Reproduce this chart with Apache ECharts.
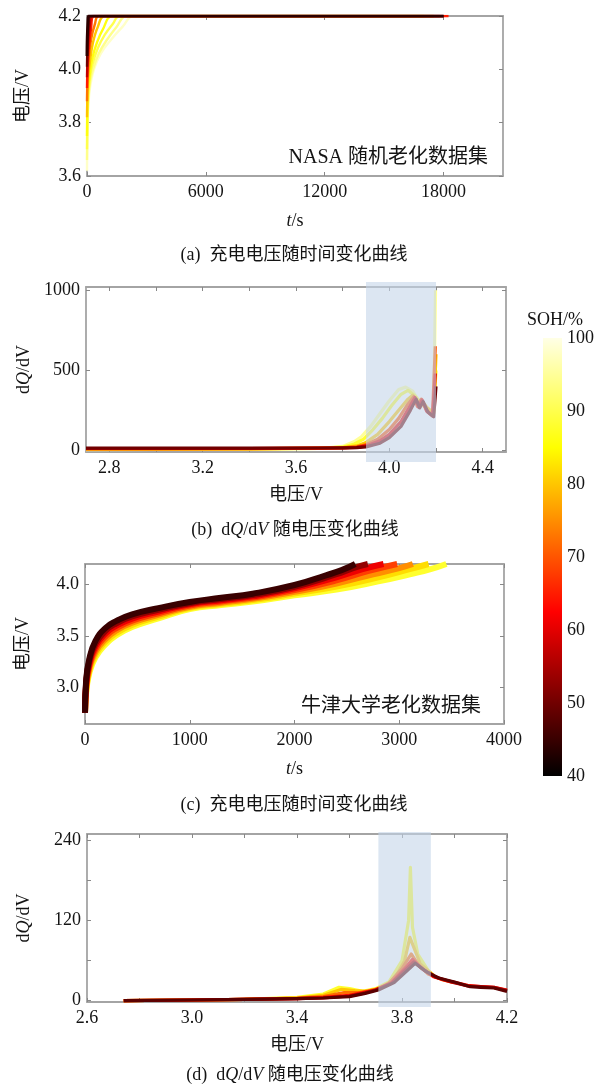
<!DOCTYPE html>
<html><head><meta charset="utf-8">
<script src="https://cdn.jsdelivr.net/npm/echarts@6/dist/echarts.min.js"></script>
<style>html,body{margin:0;padding:0;background:#fff}#c{width:600px;height:1088px}</style>
</head><body><div id="c"></div>
<script>
// ---------- DATA ----------
// (a) NASA random aging: charging voltage vs time, one curve per SOH (%)
const nasaVoltSOH = [98, 94, 90, 86, 80, 73, 65, 57, 50, 44];
const nasaVoltCurves = [
  [[0,3.62],[20,3.75],[60,3.85],[150,3.93],[350,4.0],[700,4.06],[1200,4.11],[1800,4.16],[2350,4.2],[17000,4.2]],
  [[0,3.66],[20,3.78],[60,3.88],[150,3.95],[300,4.0],[600,4.06],[1000,4.11],[1500,4.16],[2000,4.2],[17000,4.2]],
  [[0,3.70],[20,3.82],[60,3.90],[150,3.97],[280,4.02],[550,4.08],[900,4.13],[1300,4.17],[1650,4.2],[17000,4.2]],
  [[0,3.75],[20,3.86],[60,3.93],[150,3.99],[260,4.04],[500,4.10],[800,4.15],[1300,4.2],[17500,4.2]],
  [[0,3.82],[20,3.90],[60,3.97],[150,4.03],[300,4.10],[550,4.16],[900,4.2],[17500,4.2]],
  [[0,3.88],[20,3.95],[80,4.03],[200,4.11],[400,4.17],[600,4.2],[17800,4.2]],
  [[0,3.93],[20,3.99],[80,4.07],[200,4.15],[350,4.2],[18250,4.2]],
  [[0,3.97],[20,4.03],[60,4.10],[150,4.17],[250,4.2],[18000,4.2]],
  [[0,4.01],[20,4.08],[60,4.15],[130,4.2],[18000,4.2]],
  [[0,4.05],[15,4.12],[50,4.18],[80,4.2],[18000,4.2]]
];
// (b) NASA dQ/dV vs voltage
const nasaIcaSOH = [95, 88, 80, 70, 60, 50];
const nasaIcaCurves = [
  [[2.7,5],[3.0,6],[3.4,8],[3.7,12],[3.8,25],[3.85,55],[3.88,85],[3.92,150],[3.96,230],[4.0,310],[4.04,380],[4.07,395],[4.1,370],[4.13,300],[4.16,260],[4.19,250],[4.198,1000]],
  [[2.7,6],[3.0,7],[3.4,9],[3.7,13],[3.8,20],[3.85,40],[3.89,70],[3.93,130],[3.97,200],[4.01,280],[4.05,350],[4.08,375],[4.11,340],[4.14,290],[4.17,250],[4.19,240],[4.2,500]],
  [[2.7,8],[3.0,9],[3.4,10],[3.7,14],[3.8,18],[3.86,28],[3.9,50],[3.95,100],[4.0,180],[4.04,250],[4.08,320],[4.1,345],[4.12,300],[4.14,310],[4.16,270],[4.19,230],[4.2,600]],
  [[2.7,10],[3.0,10],[3.4,11],[3.7,14],[3.8,16],[3.86,22],[3.9,35],[3.95,70],[4.0,130],[4.04,200],[4.08,290],[4.105,335],[4.12,275],[4.137,320],[4.16,250],[4.185,220],[4.197,650]],
  [[2.7,12],[3.0,12],[3.4,12],[3.7,14],[3.8,15],[3.86,18],[3.9,28],[3.96,60],[4.0,100],[4.05,180],[4.09,280],[4.11,330],[4.125,270],[4.14,315],[4.16,245],[4.185,215],[4.197,480]],
  [[2.7,14],[3.0,14],[3.4,14],[3.7,15],[3.8,16],[3.86,17],[3.9,22],[3.96,45],[4.0,80],[4.05,150],[4.09,250],[4.115,320],[4.13,265],[4.145,305],[4.165,240],[4.19,210],[4.2,400]]
];
const nasaIcaBand = [3.9, 4.2];
// (c) Oxford aging: charging voltage vs time
const oxVoltSOH = [88, 82, 75, 68, 61, 53, 45];
const oxVoltCurves = [
  [[0,2.75],[10,2.93],[40,3.13],[100,3.29],[200,3.42],[300,3.505],[450,3.585],[700,3.67],[1000,3.76],[1300,3.80],[1600,3.835],[2000,3.895],[2400,3.95],[2800,4.03],[3100,4.10],[3300,4.15],[3450,4.2]],
  [[0,2.75],[10,2.95],[40,3.153],[100,3.317],[200,3.447],[300,3.528],[450,3.606],[700,3.687],[1000,3.772],[1300,3.812],[1600,3.848],[2000,3.912],[2400,3.98],[2800,4.07],[3100,4.15],[3280,4.2]],
  [[0,2.75],[10,2.97],[40,3.177],[100,3.343],[200,3.473],[300,3.552],[450,3.627],[700,3.703],[1000,3.783],[1300,3.823],[1600,3.86],[2000,3.928],[2400,4.01],[2750,4.1],[3000,4.16],[3130,4.2]],
  [[0,2.75],[10,2.99],[40,3.20],[100,3.37],[200,3.50],[300,3.575],[450,3.648],[700,3.72],[1000,3.795],[1300,3.835],[1600,3.873],[2000,3.945],[2400,4.04],[2700,4.13],[2980,4.2]],
  [[0,2.75],[10,3.01],[40,3.223],[100,3.397],[200,3.527],[300,3.598],[450,3.668],[700,3.737],[1000,3.807],[1300,3.847],[1600,3.885],[2000,3.962],[2400,4.07],[2650,4.15],[2850,4.2]],
  [[0,2.75],[10,3.03],[40,3.247],[100,3.423],[200,3.553],[300,3.622],[450,3.689],[700,3.753],[1000,3.818],[1300,3.858],[1600,3.898],[2000,3.978],[2400,4.10],[2560,4.16],[2700,4.2]],
  [[0,2.75],[10,3.05],[40,3.27],[100,3.45],[200,3.58],[300,3.645],[450,3.71],[700,3.77],[1000,3.83],[1300,3.87],[1600,3.91],[2000,3.995],[2300,4.09],[2450,4.14],[2580,4.2]]
];
// (d) Oxford dQ/dV vs voltage
const oxIcaSOH = [88, 80, 72, 64, 56, 48];
const oxIcaCurves = [
  [[2.74,0],[3.0,1],[3.2,2],[3.4,5],[3.5,10],[3.56,20],[3.6,18],[3.65,14],[3.7,18],[3.75,28],[3.8,60],[3.825,120],[3.832,200],[3.84,110],[3.86,70],[3.9,45]],
  [[2.74,0],[3.0,1],[3.2,2],[3.4,4],[3.5,8],[3.57,17],[3.62,15],[3.67,14],[3.72,19],[3.77,32],[3.81,60],[3.83,95],[3.845,80],[3.87,55],[3.92,38]],
  [[2.74,0],[3.0,1],[3.2,2],[3.4,4],[3.5,6],[3.58,12],[3.64,12],[3.7,17],[3.75,26],[3.8,48],[3.835,70],[3.86,55],[3.9,40],[3.95,32],[4.0,27]],
  [[2.74,0],[3.0,1],[3.2,2],[3.4,3],[3.5,5],[3.6,8],[3.65,12],[3.7,16],[3.76,27],[3.81,48],[3.84,62],[3.87,50],[3.92,36],[3.97,30],[4.05,23],[4.1,21],[4.15,20],[4.2,16]],
  [[2.74,0],[3.0,1],[3.2,2],[3.4,3],[3.5,4],[3.6,7],[3.65,11],[3.7,16],[3.76,26],[3.81,45],[3.845,58],[3.88,47],[3.93,35],[3.98,29],[4.05,22],[4.1,21],[4.15,20],[4.2,15]],
  [[2.74,0],[3.0,1],[3.2,2],[3.4,3],[3.5,4],[3.6,6],[3.66,11],[3.71,16],[3.77,27],[3.82,45],[3.85,56],[3.89,44],[3.94,34],[4.0,28],[4.06,21],[4.1,20],[4.15,19],[4.2,14]]
];
const oxIcaBand = [3.71, 3.91];
// axis ticks / labels
const aXLabels = [0, 6000, 12000, 18000];
const aYLabels = [3.6, 3.8, 4.0, 4.2];
const bXLabels = [2.8, 3.2, 3.6, 4.0, 4.4];
const bXTicks = [2.8, 3.0, 3.2, 3.4, 3.6, 3.8, 4.0, 4.2, 4.4];
const bYLabels = [0, 500, 1000];
const cXLabels = [0, 1000, 2000, 3000, 4000];
const cYLabels = [3.0, 3.5, 4.0];
const dXLabels = [2.6, 3.0, 3.4, 3.8, 4.2];
const dXTicks = [2.6, 2.8, 3.0, 3.2, 3.4, 3.6, 3.8, 4.0, 4.2];
const dYLabels = [0, 120, 240];
const dYTicks = [0, 60, 120, 180, 240];
const sohTicks = [40, 50, 60, 70, 80, 90, 100];

// ---------- STYLE / BUILD ----------
const FONT = "'Liberation Serif','Times New Roman','Noto Sans CJK SC',serif";
const TXT = '#141414';
function hot(s) {
  let f = Math.max(0, Math.min(1, (s - 40) / 60));
  const c = v => Math.max(0, Math.min(1, v));
  const r = c(f / 0.375), g = c((f - 0.375) / 0.375), b = c((f - 0.75) / 0.25) * 0.9;
  return 'rgb(' + Math.round(r * 255) + ',' + Math.round(g * 255) + ',' + Math.round(b * 255) + ')';
}
const grids = [
  {left: 87, top: 16, width: 416, height: 160},
  {left: 86, top: 287, width: 420, height: 165},
  {left: 85, top: 564, width: 419, height: 160},
  {left: 87, top: 834, width: 420, height: 168},
  {left: 543, top: 338, width: 19, height: 438}
].map(g => Object.assign({outerBoundsMode: 'none', containLabel: false}, g));

const xAxis = [], yAxis = [], series = [];
const rich = {i: {fontStyle: 'italic', fontSize: 18, fontFamily: FONT, color: TXT}};
const nameStyle = {fontSize: 18, fontFamily: FONT, color: TXT, rich: rich};
const AXC = '#a4a4a4';
function addBox(gi, c) {
  const lineStyle = {color: AXC, width: 1.8};
  const tickStyle = {color: '#888', width: 1};
  const mk = (pos, isX, primary) => {
    const o = {
      gridIndex: gi, type: 'value', position: pos,
      min: isX ? c.x[0] : c.y[0], max: isX ? c.x[1] : c.y[1],
      axisLine: {show: true, onZero: false, lineStyle},
      axisTick: {show: true, inside: true, length: 4, customValues: isX ? c.xt : c.yt, lineStyle: tickStyle},
      splitLine: {show: false},
      axisLabel: {show: false}
    };
    if (primary) {
      o.axisLabel = {show: true, customValues: isX ? c.xl : c.yl,
        formatter: v => Number(v).toFixed(isX ? c.xd : c.yd),
        margin: isX ? 7 : 6, fontSize: 18, fontFamily: FONT, color: TXT};
      o.name = isX ? c.xn : c.yn;
      o.nameLocation = 'middle';
      o.nameGap = isX ? c.xg : c.yg;
      o.nameTextStyle = nameStyle;
    }
    return o;
  };
  xAxis.push(mk('bottom', true, true), mk('top', true, false));
  yAxis.push(mk('left', false, true), mk('right', false, false));
}
addBox(0, {x: [0, 21000], y: [3.6, 4.2], xl: aXLabels, xt: aXLabels, yl: aYLabels, yt: aYLabels, xd: 0, yd: 1,
  xn: '{i|t}/s', yn: '电压/V', xg: 36, yg: 55});
addBox(1, {x: [2.7, 4.5], y: [-10, 1020], xl: bXLabels, xt: bXTicks, yl: bYLabels, yt: bYLabels, xd: 1, yd: 0,
  xn: '电压/V', yn: 'd{i|Q}/dV', xg: 34, yg: 49});
addBox(2, {x: [0, 4000], y: [2.64, 4.2], xl: cXLabels, xt: cXLabels, yl: cYLabels, yt: cYLabels, xd: 0, yd: 1,
  xn: '{i|t}/s', yn: '电压/V', xg: 36, yg: 53});
addBox(3, {x: [2.6, 4.2], y: [-2, 250], xl: dXLabels, xt: dXTicks, yl: dYLabels, yt: dYTicks, xd: 1, yd: 0,
  xn: '电压/V', yn: 'd{i|Q}/dV', xg: 34, yg: 54});
// colorbar axes
xAxis.push({gridIndex: 4, type: 'value', min: 0, max: 1, show: false});
yAxis.push({gridIndex: 4, type: 'value', min: 40, max: 100, position: 'right',
  axisLine: {show: false}, axisTick: {show: false}, splitLine: {show: false},
  axisLabel: {customValues: sohTicks, margin: 5, fontSize: 18, fontFamily: FONT, color: TXT}});

function addCurves(gi, sohs, curves, width, smooth) {
  sohs.forEach((s, i) => series.push({
    type: 'line', xAxisIndex: 2 * gi, yAxisIndex: 2 * gi, data: curves[i],
    showSymbol: false, symbol: 'none', smooth: smooth,
    lineStyle: {color: hot(s), width: typeof width === 'function' ? width(i) : width, cap: 'butt', join: 'round'},
    itemStyle: {color: hot(s)},
    silent: true, z: 2
  }));
}
addCurves(0, nasaVoltSOH, nasaVoltCurves, i => (i === nasaVoltSOH.length - 1 ? 3 : 2.4), 0.4);
addCurves(1, nasaIcaSOH, nasaIcaCurves, 3.2, false);
addCurves(2, oxVoltSOH, oxVoltCurves, 6, 0.5);
addCurves(3, oxIcaSOH, oxIcaCurves, 3.2, false);

function addBand(gi, band, yr, padTop, padBot) {
  series.push({
    type: 'custom', xAxisIndex: 2 * gi, yAxisIndex: 2 * gi, silent: true, z: 5, clip: false,
    data: [[band[0], band[1], yr[0], yr[1]]], encode: {x: [0, 1], y: [2, 3]},
    renderItem: (p, api) => {
      const a = api.coord([api.value(0), api.value(3)]);
      const b = api.coord([api.value(1), api.value(2)]);
      return {type: 'rect', shape: {x: a[0], y: a[1] - padTop, width: b[0] - a[0], height: b[1] - a[1] + padTop + padBot},
        style: {fill: 'rgba(197,213,233,0.6)'}};
    }
  });
}
addBand(1, nasaIcaBand, [-10, 1020], 5, 10);
addBand(3, oxIcaBand, [-2, 250], 2, 5);

// colorbar
const cbStops = [];
for (let k = 0; k <= 24; k++) { cbStops.push({offset: k / 24, color: hot(100 - k * 2.5)}); }
series.push({
  type: 'custom', xAxisIndex: 8, yAxisIndex: 8, silent: true, clip: false,
  data: [[0, 1, sohTicks[0], sohTicks[sohTicks.length - 1]]], encode: {x: [0, 1], y: [2, 3]},
  renderItem: (p, api) => {
    const a = api.coord([api.value(0), api.value(3)]);
    const b = api.coord([api.value(1), api.value(2)]);
    return {type: 'rect', shape: {x: a[0], y: a[1], width: b[0] - a[0], height: b[1] - a[1]},
      style: {fill: new echarts.graphic.LinearGradient(0, 0, 0, 1, cbStops)}};
  }
});

const tStyle = (text, x, y, size, align) => ({type: 'text', x: x, y: y, silent: true,
  style: {text: text, fontSize: size, fontFamily: FONT, fill: TXT, align: align || 'center', verticalAlign: 'middle', rich: {i: {fontStyle: 'italic', fontSize: size, fontFamily: FONT, fill: TXT}}}});
const graphic = [
  tStyle('(a)  充电电压随时间变化曲线', 294, 255, 18),
  tStyle('(b)  d{i|Q}/d{i|V} 随电压变化曲线', 295, 530, 18),
  tStyle('(c)  充电电压随时间变化曲线', 294, 805, 18),
  tStyle('(d)  d{i|Q}/d{i|V} 随电压变化曲线', 290, 1075, 18),
  tStyle('NASA 随机老化数据集', 488, 158, 20, 'right'),
  tStyle('牛津大学老化数据集', 481, 707, 20, 'right'),
  tStyle('SOH/%', 555, 320, 18)
];

const chart = echarts.init(document.getElementById('c'), null, {renderer: 'canvas'});
chart.setOption({animation: false, backgroundColor: '#fff', grid: grids, xAxis, yAxis, series, graphic});
</script></body></html>
